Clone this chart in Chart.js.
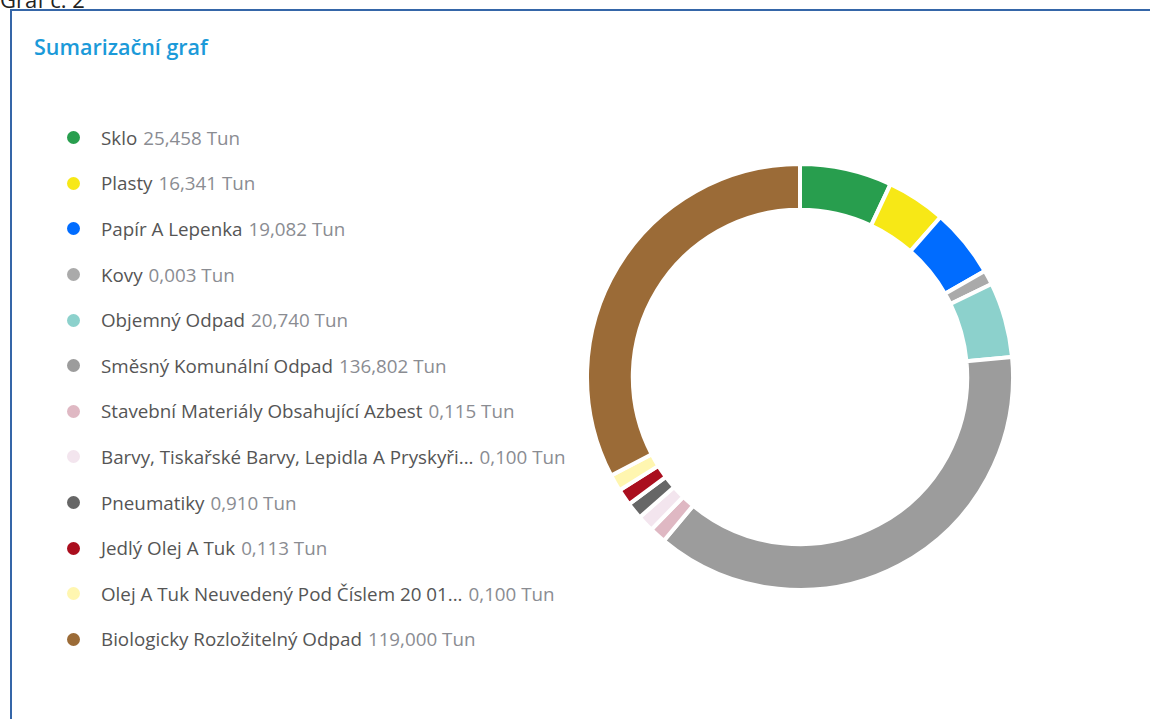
<!DOCTYPE html>
<html>
<head>
<meta charset="utf-8">
<script src="https://cdn.jsdelivr.net/npm/chart.js@4"></script>
<style>
  html, body { margin: 0; padding: 0; background: #fff; overflow: hidden; }
  body { width: 1150px; height: 719px; position: relative; font-family: "Open Sans", "Noto Sans", sans-serif; }
  #nadpis_stranky { position: absolute; left: 0; top: -16px; font-size: 22px; color: #222; }
  #karta { position: absolute; left: 10px; top: 9px; width: 1160px; height: 730px; border-top: 2px solid #3566a8; border-left: 2px solid #3566a8; }
  #titulek { position: absolute; left: 34px; top: 32px; font-size: 21.5px; font-weight: 600; color: #1b9ad9; }
  #legenda { position: absolute; left: 67px; top: 115px; }
  .radek { height: 45.6px; display: flex; align-items: center; font-size: 18.8px; white-space: nowrap; }
  .tecka { width: 13px; height: 13px; border-radius: 50%; margin-right: 21px; }
  .nazev { color: #555; }
  .hodnota { color: #8a8c92; margin-left: 6px; }
  #obal { position: absolute; left: 585px; top: 162px; width: 430px; height: 430px; }
</style>
</head>
<body>
<div id="nadpis_stranky">Graf č. 2</div>
<div id="karta"></div>
<div id="titulek">Sumarizační graf</div>
<div id="legenda"></div>
<div id="obal"><canvas id="sumarizacni_graf"></canvas></div>
<script>
const kategorie = [
  'Sklo', 'Plasty', 'Papír A Lepenka', 'Kovy', 'Objemný Odpad', 'Směsný Komunální Odpad',
  'Stavební Materiály Obsahující Azbest', 'Barvy, Tiskařské Barvy, Lepidla A Pryskyři...',
  'Pneumatiky', 'Jedlý Olej A Tuk', 'Olej A Tuk Neuvedený Pod Číslem 20 01...', 'Biologicky Rozložitelný Odpad'
];
// hodnoty z legendy (tuny)
const hodnoty_text = ['25,458', '16,341', '19,082', '0,003', '20,740', '136,802', '0,115', '0,100', '0,910', '0,113', '0,100', '119,000'];
// velikosti vysečí (malé položky mají minimální výseč)
const vysece = [25.458, 16.341, 19.082, 4.0, 20.740, 136.802, 4.6, 4.6, 4.6, 4.6, 4.6, 119.000];
const barvy = ['#289e4e', '#f7e816', '#006cff', '#aaaaaa', '#8cd1cc', '#9c9c9c', '#dfb8c3', '#f3e5ee', '#666666', '#aa0e1e', '#fff6b0', '#9b6b37'];

const legenda = document.getElementById('legenda');
kategorie.forEach((k, i) => {
  const r = document.createElement('div');
  r.className = 'radek';
  r.innerHTML = '<span class="tecka" style="background:' + barvy[i] + '"></span>' +
    '<span class="nazev">' + k + '</span><span class="hodnota">' + hodnoty_text[i] + ' Tun</span>';
  legenda.appendChild(r);
});

const ctx = document.getElementById('sumarizacni_graf').getContext('2d');

new Chart(ctx, {
  type: 'doughnut',
  data: {
    labels: kategorie,
    datasets: [
      {
        data: vysece,
        backgroundColor: barvy,
        borderColor: '#ffffff',
        borderWidth: 4,
        hoverOffset: 0
      }
    ]
  },
  options: {
    responsive: true,
    maintainAspectRatio: false,
    animation: false,
    cutout: '78.5%',
    layout: { padding: 0 },
    plugins: {
      legend: { display: false },
      tooltip: { enabled: false }
    }
  }
});
</script>
</body>
</html>
